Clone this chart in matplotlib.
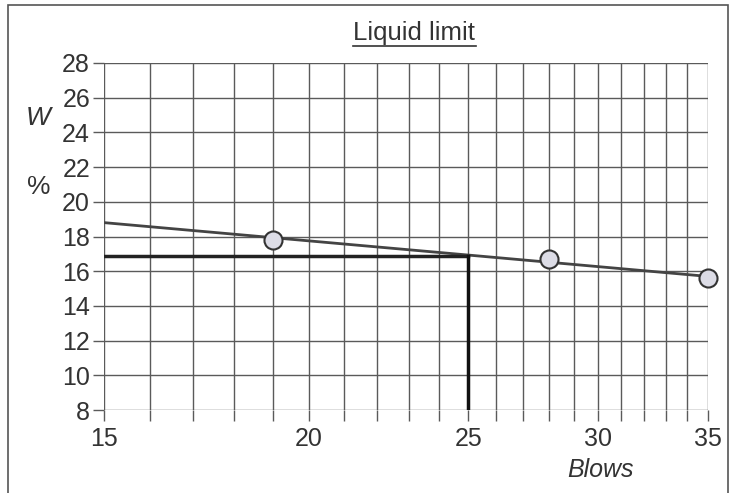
import matplotlib.pyplot as plt
from matplotlib.lines import Line2D
from matplotlib.patches import Rectangle

plt.rcParams['font.family'] = ['Liberation Sans', 'DejaVu Sans']

# measured points (blows, water content %)
blows = [19, 28, 35]
water = [17.8, 16.7, 15.6]

# flow line ends and liquid limit read at 25 blows
flow_x = [15, 35]
flow_y = [18.8, 15.7]
ll_blows = 25
ll_value = 16.9

x_ticks = [15, 20, 25, 30, 35]
y_ticks = list(range(8, 29, 2))

fig = plt.figure(figsize=(7.37, 4.93), dpi=100)
ax = fig.add_axes([104 / 737, 1 - 410 / 493, 604 / 737, 347 / 493])

grid_col = '#5a5a5a'
ax.set_xscale('log')
ax.set_xlim(15, 35)
ax.set_ylim(8, 28)

ax.set_xticks(range(15, 36))
ax.set_xticklabels([str(v) if v in x_ticks else '' for v in range(15, 36)])
ax.xaxis.set_minor_locator(plt.NullLocator())
ax.set_yticks(y_ticks)
ax.tick_params(axis='both', direction='out', length=8, width=1, color=grid_col,
               labelsize=18, labelcolor='#333333')
ax.tick_params(axis='x', pad=4)
ax.tick_params(axis='y', pad=2)
ax.grid(True, color=grid_col, linewidth=1)
for s in ax.spines.values():
    s.set_visible(False)

ax.plot(flow_x, flow_y, color='#444444', linewidth=2, zorder=3)
ax.plot([15, ll_blows], [ll_value, ll_value], color='#222222', linewidth=2.5, zorder=3)
ax.plot([ll_blows, ll_blows], [8, ll_value], color='#111111', linewidth=2.5, zorder=3)
ax.plot(blows, water, 'o', markersize=13, markerfacecolor='#dcdce6',
        markeredgecolor='#333333', markeredgewidth=1.5, zorder=4, clip_on=False)

fig.text(0.052, 1 - 118 / 493, 'W', fontsize=19, style='italic', color='#333333',
         ha='center', va='center')
fig.text(0.052, 1 - 187 / 493, '%', fontsize=19, color='#333333',
         ha='center', va='center')
fig.text(600 / 737, 1 - 470 / 493, 'Blows', fontsize=18, style='italic',
         color='#333333', ha='center', va='center')

fig.text(414 / 737, 1 - 33 / 493, 'Liquid limit', fontsize=18.5, color='#333333',
         ha='center', va='center')
fig.add_artist(Line2D([353 / 737, 476 / 737], [1 - 46 / 493, 1 - 46 / 493],
                      color='#333333', linewidth=1.2))

fig.add_artist(Rectangle((8 / 737, -0.02), 720 / 737, 1 - 5 / 493 + 0.02,
                         transform=fig.transFigure, fill=False,
                         edgecolor='#555555', linewidth=1.2))

fig.savefig('out.png', dpi=100)
